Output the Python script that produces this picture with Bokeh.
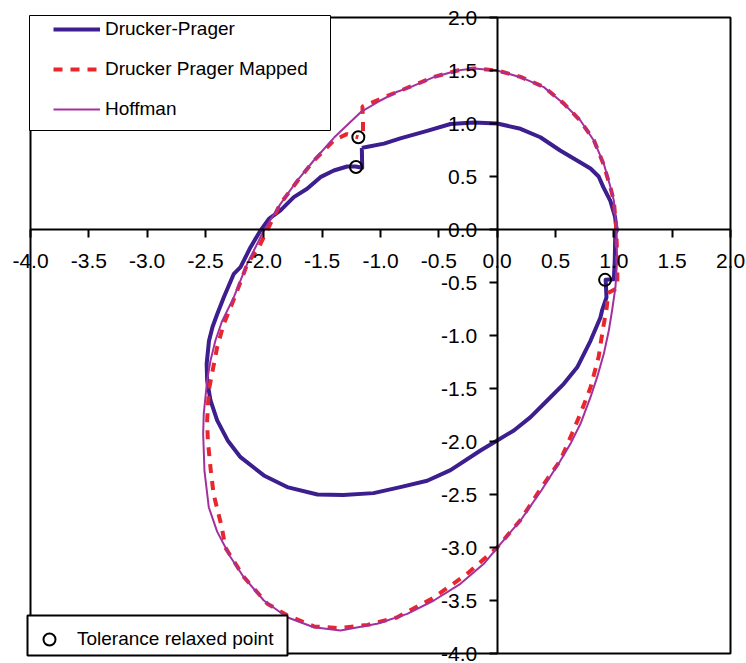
from bokeh.plotting import figure
from bokeh.models import FixedTicker, Legend, LegendItem, BoxAnnotation, NumeralTickFormatter
from bokeh.embed import file_html
from bokeh.resources import INLINE

# ---- data ----
x_ticks = [-4.0, -3.5, -3.0, -2.5, -2.0, -1.5, -1.0, -0.5, 0.0, 0.5, 1.0, 1.5, 2.0]
x_tick_labels = ["-4.0", "-3.5", "-3.0", "-2.5", "-2.0", "-1.5", "-1.0", "-0.5", "0.0", "0.5", "1.0", "1.5", "2.0"]
y_ticks = [-4.0, -3.5, -3.0, -2.5, -2.0, -1.5, -1.0, -0.5, 0.0, 0.5, 1.0, 1.5, 2.0]
y_tick_labels = ["-4.0", "-3.5", "-3.0", "-2.5", "-2.0", "-1.5", "-1.0", "-0.5", "0.0", "0.5", "1.0", "1.5", "2.0"]
axis_min, axis_max = -4.0, 2.0

dp_x = [-1.16, -1.11, -0.97, -0.83, -0.60, -0.40, -0.20, 0.00, 0.20, 0.37, 0.54, 0.71, 0.80, 0.87,
        0.91, 0.97, 1.01, 1.025, 1.012, 1.008, 1.00, 0.93, 0.937, 0.90, 0.885, 0.80, 0.686, 0.571,
        0.429, 0.286, 0.143, 0.00, -0.143, -0.40, -0.60, -0.83, -1.06, -1.32, -1.54, -1.80, -2.00,
        -2.20, -2.31, -2.40, -2.457, -2.486, -2.49, -2.47, -2.44, -2.40, -2.343, -2.257, -2.20,
        -2.114, -2.029, -1.957, -1.857, -1.743, -1.629, -1.515, -1.40, -1.286, -1.214, -1.157, -1.16]
dp_y = [0.77, 0.78, 0.81, 0.86, 0.93, 0.995, 1.01, 1.00, 0.95, 0.87, 0.745, 0.635, 0.575, 0.50,
        0.40, 0.27, 0.12, -0.01, -0.04, -0.29, -0.47, -0.475, -0.64, -0.76, -0.83, -1.05, -1.30,
        -1.456, -1.613, -1.77, -1.896, -1.99, -2.085, -2.27, -2.37, -2.43, -2.487, -2.505, -2.50,
        -2.43, -2.32, -2.148, -1.99, -1.80, -1.613, -1.425, -1.267, -1.05, -0.92, -0.80, -0.64,
        -0.418, -0.355, -0.167, -0.01, 0.10, 0.18, 0.305, 0.384, 0.494, 0.557, 0.594, 0.594, 0.582,
        0.77]

mp_x = [-1.15, -1.15, -1.155, -0.94, -0.74, -0.54, -0.34, -0.20, 0.00, 0.20, 0.40, 0.57, 0.71,
        0.83, 0.91, 0.97, 1.00, 1.02, 1.03, 1.03, 0.95, 0.94, 0.905, 0.87, 0.80, 0.72, 0.64, 0.54,
        0.37, 0.20, 0.00, -0.26, -0.54, -0.86, -1.11, -1.36, -1.57, -1.80, -1.97, -2.17, -2.33,
        -2.36, -2.43, -2.455, -2.48, -2.486, -2.472, -2.40, -2.343, -2.25, -2.14, -2.043, -1.86,
        -1.71, -1.57, -1.40, -1.29, -1.19]
mp_y = [0.93, 1.03, 1.16, 1.26, 1.35, 1.44, 1.50, 1.52, 1.50, 1.44, 1.345, 1.19, 1.03, 0.84, 0.62,
        0.40, 0.27, 0.02, -0.29, -0.55, -0.60, -0.73, -0.95, -1.20, -1.49, -1.72, -1.93, -2.18,
        -2.45, -2.74, -3.00, -3.25, -3.47, -3.66, -3.73, -3.76, -3.745, -3.64, -3.53, -3.28, -3.00,
        -2.81, -2.50, -2.27, -1.99, -1.80, -1.52, -1.11, -0.89, -0.64, -0.32, -0.167, 0.24, 0.46,
        0.65, 0.84, 0.90, 0.87]

hf_x = [-1.40, -1.17, -1.00, -0.857, -0.743, -0.543, -0.343, -0.20, 0.00, 0.20, 0.40, 0.571, 0.714,
        0.828, 0.914, 0.971, 1.00, 1.022, 1.028, 1.014, 0.985, 0.957, 0.914, 0.857, 0.80, 0.714,
        0.628, 0.543, 0.38, 0.20, 0.029, -0.115, -0.315, -0.543, -0.771, -1.029, -1.343, -1.572,
        -1.80, -2.00, -2.172, -2.286, -2.40, -2.472, -2.509, -2.52, -2.515, -2.486, -2.457, -2.415,
        -2.36, -2.257, -2.143, -2.00, -1.857, -1.714, -1.572, -1.40]
hf_y = [0.865, 1.107, 1.217, 1.30, 1.343, 1.437, 1.50, 1.52, 1.50, 1.437, 1.343, 1.186, 1.028, 0.84,
        0.62, 0.40, 0.274, 0.02, -0.29, -0.544, -0.764, -0.953, -1.173, -1.393, -1.582, -1.833,
        -2.022, -2.179, -2.46, -2.745, -2.965, -3.154, -3.343, -3.50, -3.626, -3.72, -3.783,
        -3.752, -3.658, -3.50, -3.28, -3.09, -2.85, -2.62, -2.274, -1.927, -1.739, -1.425, -1.236,
        -1.047, -0.87, -0.638, -0.324, -0.01, 0.242, 0.462, 0.651, 0.865]

tp_x = [-1.19, -1.21, 0.925]
tp_y = [0.87, 0.59, -0.475]

series_names = ["Drucker-Prager", "Drucker Prager Mapped", "Hoffman"]
point_name = "Tolerance relaxed point"

# ---- figure ----
FONT = "Liberation Sans"
PX_X = 700 / (axis_max - axis_min)   # frame pixels per unit
PX_Y = 636 / (axis_max - axis_min)
p = figure(width=746, height=663,
           x_range=(axis_min - 22 / PX_X, axis_max + 16 / PX_X),
           y_range=(axis_min - 10 / PX_Y, axis_max + 15 / PX_Y),
           output_backend="svg", toolbar_location=None,
           min_border_left=8, min_border_right=0, min_border_top=2, min_border_bottom=0)
p.grid.visible = False
p.outline_line_color = None
p.background_fill_color = "white"
p.border_fill_color = "white"

for ax, ticks, labels in ((p.xaxis, x_ticks, x_tick_labels), (p.yaxis, y_ticks, y_tick_labels)):
    ax.fixed_location = 0
    ax.bounds = (axis_min, axis_max)
    ax.ticker = FixedTicker(ticks=ticks)
    ax.formatter = NumeralTickFormatter(format="0.0")
    ax.major_label_overrides = {t: l for t, l in zip(ticks, labels)}
    ax.axis_line_color = "black"
    ax.axis_line_width = 2
    ax.major_tick_line_color = "black"
    ax.major_tick_line_width = 2
    ax.major_tick_in = 0
    ax.major_tick_out = 8
    ax.minor_tick_line_color = None
    ax.major_label_text_font = FONT
    ax.major_label_text_font_size = "21px"
    ax.major_label_text_color = "black"
p.xaxis.major_label_standoff = 16
p.yaxis.major_label_standoff = 12

r_dp = p.line(dp_x, dp_y, line_color="#3D1E8E", line_width=4, line_join="round")
r_mp = p.line(mp_x, mp_y, line_color="#E8262C", line_width=4, line_dash="9 8")
r_hf = p.line(hf_x, hf_y, line_color="#A4309E", line_width=2, line_join="round")
r_tp = p.scatter(tp_x, tp_y, marker="circle", size=12, fill_color=None,
                 line_color="black", line_width=2)

# chart border (data extent of the axes)
frame_box = BoxAnnotation(left=axis_min, right=axis_max, bottom=axis_min, top=axis_max,
                          fill_alpha=0, line_color="black", line_alpha=1.0, line_width=2)
p.add_layout(frame_box)

# legend frames (screen units, relative to plot frame)
box1 = BoxAnnotation(left=21, right=322, bottom=533, top=648,
                     left_units="screen", right_units="screen",
                     top_units="screen", bottom_units="screen",
                     fill_color="white", fill_alpha=1.0,
                     line_color="black", line_alpha=1.0, line_width=1)
box2 = BoxAnnotation(left=19, right=279, bottom=8, top=48,
                     left_units="screen", right_units="screen",
                     top_units="screen", bottom_units="screen",
                     fill_color="white", fill_alpha=1.0,
                     line_color="black", line_alpha=1.0, line_width=2)
p.add_layout(box1)
p.add_layout(box2)

leg1 = Legend(items=[LegendItem(label=series_names[0], renderers=[r_dp]),
                     LegendItem(label=series_names[1], renderers=[r_mp]),
                     LegendItem(label=series_names[2], renderers=[r_hf])],
              location=(45, 543), padding=0, margin=0, spacing=18,
              label_height=20, glyph_height=20, glyph_width=47, label_standoff=5,
              border_line_alpha=0, background_fill_alpha=0,
              label_text_font=FONT, label_text_font_size="19px", label_text_color="black")
leg2 = Legend(items=[LegendItem(label=point_name, renderers=[r_tp])],
              location=(26, 9), padding=0, margin=0, spacing=0,
              label_height=30, glyph_height=30, glyph_width=30, label_standoff=13,
              border_line_alpha=0, background_fill_alpha=0,
              label_text_font=FONT, label_text_font_size="19px", label_text_color="black")
p.add_layout(leg1)
p.add_layout(leg2)

open("out.html", "w").write(file_html(p, INLINE))
